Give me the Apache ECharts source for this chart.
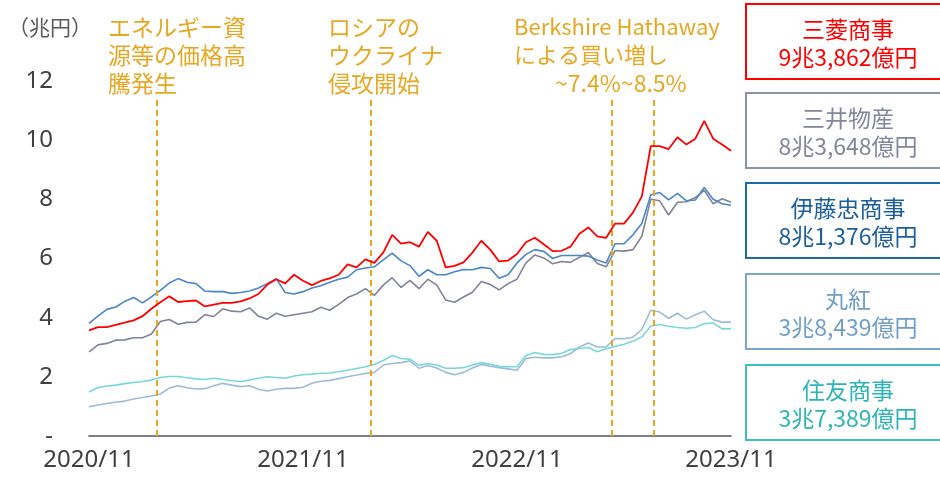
<!DOCTYPE html>
<html>
<head>
<meta charset="utf-8">
<script src="https://cdn.jsdelivr.net/npm/echarts@6/dist/echarts.min.js"></script>
<style>
  html, body { margin: 0; padding: 0; background: #fff; }
  #chart { width: 940px; height: 479px; }
</style>
</head>
<body>
<div id="chart"></div>
<script>
// 時価総額（兆円）、2020/11 から半月ごと
const yearLabels = ["2020/11", "2021/11", "2022/11", "2023/11"];

const mitsubishi = [3.57, 3.68, 3.68, 3.76, 3.83, 3.91, 4.05, 4.30, 4.52, 4.72, 4.53, 4.56, 4.58, 4.38, 4.44, 4.50, 4.50, 4.55, 4.65, 4.80,
  5.12, 5.30, 5.16, 5.45, 5.25, 5.10, 5.24, 5.33, 5.45, 5.80, 5.70, 5.97, 5.85, 6.20, 6.80, 6.50, 6.55, 6.40, 6.90, 6.60,
  5.70, 5.75, 5.87, 6.20, 6.60, 6.30, 5.90, 5.93, 6.15, 6.55, 6.70, 6.48, 6.25, 6.26, 6.40, 6.84, 7.05, 6.75, 6.70, 7.18,
  7.18, 7.55, 8.10, 9.80, 9.80, 9.70, 10.10, 9.85, 10.05, 10.65, 10.05, 9.85, 9.64];
const mitsui = [2.84, 3.08, 3.13, 3.24, 3.25, 3.32, 3.32, 3.45, 3.87, 3.94, 3.78, 3.84, 3.85, 4.10, 4.04, 4.30, 4.22, 4.20, 4.33, 4.05,
  3.95, 4.15, 4.05, 4.10, 4.15, 4.20, 4.35, 4.25, 4.45, 4.68, 4.80, 4.98, 4.75, 5.10, 5.35, 5.02, 5.26, 4.98, 5.30, 5.10,
  4.60, 4.52, 4.70, 4.86, 5.22, 5.12, 4.94, 5.15, 5.30, 5.85, 6.12, 6.02, 5.82, 5.90, 5.87, 6.04, 6.20, 5.83, 5.72, 6.27,
  6.25, 6.30, 6.75, 8.00, 7.95, 7.47, 7.90, 7.92, 8.06, 8.30, 7.85, 8.02, 7.90];
const itochu = [3.81, 4.05, 4.28, 4.36, 4.55, 4.68, 4.50, 4.70, 4.92, 5.17, 5.32, 5.20, 5.15, 4.90, 4.88, 4.88, 4.82, 4.85, 4.90, 5.00,
  5.15, 5.32, 4.85, 4.80, 4.88, 5.00, 5.08, 5.20, 5.30, 5.37, 5.62, 5.68, 5.72, 5.95, 6.18, 5.92, 5.76, 5.40, 5.62, 5.45,
  5.45, 5.55, 5.63, 5.62, 5.70, 5.66, 5.33, 5.45, 5.85, 6.14, 6.30, 6.24, 6.00, 6.10, 6.10, 6.10, 6.08, 5.95, 5.85, 6.50,
  6.50, 6.80, 7.18, 8.15, 8.23, 7.98, 8.20, 7.95, 7.98, 8.40, 8.00, 7.85, 7.80];
const marubeni = [0.99, 1.05, 1.10, 1.14, 1.18, 1.25, 1.30, 1.35, 1.42, 1.62, 1.70, 1.63, 1.59, 1.60, 1.70, 1.78, 1.72, 1.67, 1.70, 1.58,
  1.52, 1.58, 1.61, 1.61, 1.65, 1.78, 1.85, 1.88, 1.94, 2.00, 2.06, 2.11, 2.15, 2.40, 2.45, 2.48, 2.54, 2.29, 2.38, 2.30,
  2.15, 2.07, 2.15, 2.30, 2.42, 2.36, 2.31, 2.27, 2.22, 2.62, 2.66, 2.64, 2.64, 2.68, 2.78, 3.01, 3.14, 3.01, 3.01, 3.29,
  3.29, 3.34, 3.60, 4.25, 4.19, 3.98, 4.15, 3.95, 4.10, 4.22, 3.93, 3.85, 3.85];
const sumitomo = [1.49, 1.64, 1.69, 1.72, 1.77, 1.81, 1.84, 1.89, 1.98, 2.01, 2.01, 1.97, 1.93, 1.91, 1.95, 1.91, 1.87, 1.84, 1.89, 1.95,
  2.00, 1.98, 1.95, 2.03, 2.07, 2.09, 2.12, 2.13, 2.17, 2.22, 2.28, 2.34, 2.42, 2.55, 2.72, 2.62, 2.60, 2.39, 2.45, 2.40,
  2.29, 2.29, 2.31, 2.40, 2.48, 2.42, 2.36, 2.34, 2.34, 2.72, 2.82, 2.76, 2.75, 2.80, 2.92, 2.96, 2.99, 2.85, 2.95, 3.03,
  3.10, 3.20, 3.35, 3.72, 3.77, 3.71, 3.67, 3.64, 3.67, 3.80, 3.82, 3.62, 3.63];

// 2020/11 からの月数
const months = mitsubishi.map((_, i) => i * 0.5);

const companies = ["三菱商事", "三井物産", "伊藤忠商事", "丸紅", "住友商事"];
const capTexts = ["9兆3,862億円", "8兆3,648億円", "8兆1,376億円", "3兆8,439億円", "3兆7,389億円"];
const lineColors = ["#ff0000", "#7f8597", "#4a86c8", "#9dbdd6", "#7ad6dc"];
const boxColors = ["#ff0000", "#8c93a3", "#1c6ba8", "#7ba7cc", "#3cbfbf"];
const textColors = ["#ff0000", "#80879a", "#1a5f9c", "#6f9fc6", "#2db5b5"];
const seriesData = [mitsubishi, mitsui, itochu, marubeni, sumitomo];

// イベント（2020/11 からの月数）
const eventMonths = [3.81, 15.82, 29.33, 31.69];

const JP = '"Noto Sans CJK JP"';
const gold = "#e6a823";

const myChart = echarts.init(document.getElementById("chart"));

const series = seriesData.map((vals, k) => ({
  name: companies[k],
  type: "line",
  showSymbol: false,
  data: vals.map((v, i) => [months[i], v]),
  lineStyle: { color: lineColors[k], width: k === 0 ? 1.8 : 1.6 },
  itemStyle: { color: lineColors[k] },
  z: [5, 3, 4, 2, 2][k]
}));

series[0].markLine = {
  silent: true,
  symbol: "none",
  label: { show: false },
  lineStyle: { color: gold, type: [6, 4], width: 2 },
  data: eventMonths.map(t => [{ coord: [t, 0] }, { coord: [t, 11.45] }])
};

const graphics = [
  {
    type: "text", x: 8, y: 14,
    style: { text: "（兆円）", font: "21px " + JP, fill: "#595959", lineHeight: 26 }
  },
  {
    type: "text", x: 108, y: 13,
    style: { text: "エネルギー資\n源等の価格高\n騰発生", font: "23px " + JP, fill: gold, lineHeight: 28 }
  },
  {
    type: "text", x: 328, y: 13,
    style: { text: "ロシアの\nウクライナ\n侵攻開始", font: "23px " + JP, fill: gold, lineHeight: 28 }
  },
  {
    type: "text", x: 514, y: 13,
    style: { text: "Berkshire Hathaway\nによる買い増し", font: "22px " + JP, fill: gold, lineHeight: 28 }
  },
  {
    type: "text", x: 555, y: 69,
    style: { text: "~7.4%~8.5%", font: "23px " + JP, fill: gold, lineHeight: 28 }
  }
];

const boxTops = [4, 93, 183, 274, 365];
companies.forEach((name, k) => {
  graphics.push({
    type: "rect",
    shape: { x: 746, y: boxTops[k], width: 220, height: 75 },
    style: { fill: "#fff", stroke: boxColors[k], lineWidth: 2 }
  });
  graphics.push({
    type: "text", x: 848, y: boxTops[k] + 11,
    style: {
      text: name + "\n" + capTexts[k],
      font: "23px " + JP, fill: textColors[k],
      align: "center", lineHeight: 28
    }
  });
});

myChart.setOption({
  animation: false,
  grid: { left: 89, right: 209, top: 81, bottom: 43 },
  xAxis: {
    type: "value",
    min: 0, max: 36, interval: 12,
    splitLine: { show: false },
    axisTick: { show: false },
    axisLine: { show: true, lineStyle: { color: "#4f5464", width: 1.5 } },
    axisLabel: {
      margin: 12,
      fontSize: 24,
      fontFamily: "Noto Sans",
      color: "#404040",
      formatter: v => yearLabels[v / 12] || ""
    }
  },
  yAxis: {
    type: "value",
    min: 0, max: 12, interval: 2,
    splitLine: { show: false },
    axisTick: { show: false },
    axisLine: { show: false },
    axisLabel: {
      margin: 36,
      fontSize: 24,
      fontFamily: "Noto Sans",
      color: "#404040",
      formatter: v => (v === 0 ? "-" : String(v))
    }
  },
  graphic: graphics,
  series: series
});
</script>
</body>
</html>
